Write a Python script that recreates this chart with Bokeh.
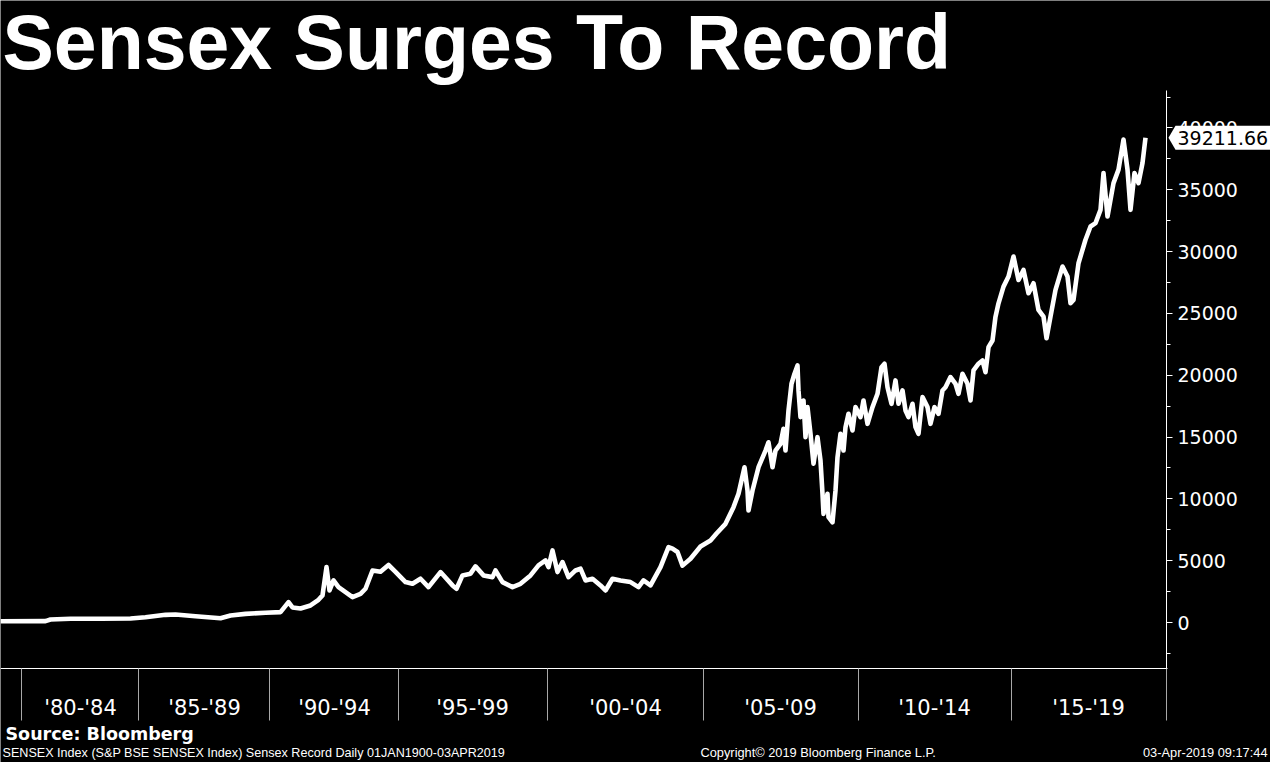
from bokeh.plotting import figure
from bokeh.models import Range1d, LinearAxis, FixedTicker, Label, PolyAnnotation
from bokeh.embed import file_html
from bokeh.resources import INLINE

# position along the trading-session axis (Bloomberg plots by observation)
obs = [0, 45, 50, 70, 100, 130, 145, 165, 175, 195, 220, 230, 245, 265, 280,
       288, 292, 300, 310, 318, 322, 326, 329, 333, 338, 345, 352, 360, 365, 372,
       380, 388, 395, 405, 412, 420, 428, 440, 452, 456, 462, 470, 475, 483, 492,
       495, 502, 512, 520, 530, 538, 545, 548, 552, 557, 562, 568, 575, 580, 585,
       592, 600, 605, 612, 620, 630, 638, 643, 650, 660, 668, 672, 677, 682, 690,
       700, 710, 716, 725, 733, 738, 744, 747, 748, 752, 758, 765, 768, 772, 775,
       780, 783, 785, 788, 791, 794, 797, 798, 800, 803, 805, 807, 810, 813, 817,
       820, 822, 823, 827, 828, 832, 835, 837, 840, 843, 845, 848, 852, 855, 860,
       863, 867, 872, 877, 881, 884, 887, 891, 895, 898, 902, 905, 908, 912, 915,
       918, 922, 927, 930, 934, 938, 942, 945, 950, 955, 958, 962, 967, 970, 973,
       978, 982, 985, 988, 992, 995, 998, 1003, 1008, 1013, 1018, 1023, 1028, 1033, 1038,
       1043, 1046, 1050, 1055, 1062, 1067, 1070, 1073, 1078, 1085, 1090, 1095, 1100, 1103, 1107,
       1113, 1118, 1123, 1127, 1130, 1134, 1138, 1142, 1145]
sensex = [100, 110, 240, 300, 300, 320, 430, 620, 650, 510, 350, 570, 700, 790, 840,
          1650, 1215, 1130, 1380, 1840, 2190, 4480, 2590, 3400, 2860, 2460, 2050, 2320, 2730, 4210,
          4100, 4650, 4100, 3270, 3130, 3540, 2860, 4080, 3000, 2730, 3810, 3950, 4540, 3810, 3670,
          4210, 3270, 2860, 3130, 3810, 4620, 5020, 4480, 5830, 4080, 4890, 3670, 4210, 4350, 3400,
          3540, 3000, 2590, 3540, 3400, 3270, 2860, 3400, 3000, 4480, 6100, 5970, 5700, 4600, 5160,
          6150, 6640, 7200, 7980, 9330, 10410, 12560, 10680, 9060, 10680, 12560, 13910, 14580, 12560, 13910,
          14450, 15670, 13910, 17150, 19310, 20120, 20790, 18770, 16610, 17960, 14990, 17420, 15260, 12840, 14990,
          13100, 10410, 8790, 10410, 8520, 8110, 10680, 13370, 15260, 13910, 15800, 16880, 15530, 17420, 16610,
          17960, 16070, 17420, 18500, 20650, 20930, 19030, 17690, 19580, 17690, 18770, 17150, 16610, 17690, 15800,
          15260, 18230, 17420, 16070, 17420, 16880, 18770, 19030, 19850, 19310, 18500, 20120, 19310, 17960, 20390,
          20930, 21200, 20250, 22270, 22810, 24740, 25820, 27170, 27980, 29600, 27710, 28520, 26630, 27440, 25280,
          24740, 22990, 24740, 26900, 28790, 27980, 25820, 26090, 29060, 30960, 32030, 32300, 33380, 36360, 32840,
          35540, 36630, 39060, 36630, 33380, 36360, 35540, 37170, 39211.66]

period_edges = [21, 138, 269, 398, 547, 703, 858, 1011, 1166]
period_labels = ["'80-'84", "'85-'89", "'90-'94", "'95-'99", "'00-'04", "'05-'09", "'10-'14", "'15-'19"]
y_ticks = [0, 5000, 10000, 15000, 20000, 25000, 30000, 35000, 40000]
y_minor = [-2500, 2500, 7500, 12500, 17500, 22500, 27500, 32500, 37500, 42500]

title_text = "Sensex Surges To Record"
source_text = "Source: Bloomberg"
desc_text = "SENSEX Index (S&P BSE SENSEX Index) Sensex Record  Daily 01JAN1900-03APR2019"
copyright_text = "Copyright\u00a9 2019 Bloomberg Finance L.P."
stamp_text = "03-Apr-2019 09:17:44"

W, H = 1270, 762
PLOT_RIGHT, PLOT_TOP, PLOT_BOTTOM = 1166, 90, 668   # plot area in canvas pixels
ZERO_PX, VAL_PER_PX = 622, 35000 / 432.7            # value scale

# the frame covers the whole canvas; axes are fixed to the plot area's edges
X0, X1 = 0, W
Y0 = -(H - ZERO_PX) * VAL_PER_PX
Y1 = ZERO_PX * VAL_PER_PX

def dx(px):
    return X0 + px * (X1 - X0) / W

def dy(py):
    return Y0 + (H - py) * (Y1 - Y0) / H

def base(py, size):
    # text anchor so that the alphabetic baseline lands on canvas row py
    return dy(py - 0.38 * size)

p = figure(width=W, height=H, output_backend="svg", toolbar_location=None,
           x_range=Range1d(X0, X1), y_range=Range1d(Y0, Y1),
           x_axis_location=None, y_axis_location=None, title=None,
           min_border=0,
           background_fill_color="black", border_fill_color="black", outline_line_color=None)
p.grid.visible = False

p.line(obs, sensex, line_color="white", line_width=4.6, line_join="round")

yax = LinearAxis(ticker=FixedTicker(ticks=y_ticks, minor_ticks=y_minor),
                 fixed_location=dx(PLOT_RIGHT), bounds=(dy(PLOT_BOTTOM), dy(PLOT_TOP)))
yax.axis_line_color = "white"
yax.major_tick_line_color = "white"
yax.major_tick_in = 0
yax.major_tick_out = 6
yax.minor_tick_line_color = "white"
yax.minor_tick_in = 0
yax.minor_tick_out = 4
yax.major_label_text_color = "white"
yax.major_label_text_font = "DejaVu Sans"
yax.major_label_text_font_size = "19px"
yax.major_label_standoff = 5
p.add_layout(yax, "right")

centers = [int(round((a + b) / 2)) for a, b in zip(period_edges[:-1], period_edges[1:])]
xax = LinearAxis(ticker=FixedTicker(ticks=centers, minor_ticks=period_edges),
                 major_label_overrides={c: lab for c, lab in zip(centers, period_labels)},
                 fixed_location=dy(PLOT_BOTTOM), bounds=(0, dx(PLOT_RIGHT) + 0.5))
xax.axis_line_color = "white"
xax.major_tick_line_color = None
xax.major_tick_in = 0
xax.major_tick_out = 0
xax.minor_tick_line_color = "#a8a8a8"
xax.minor_tick_in = 0
xax.minor_tick_out = 52
xax.major_label_text_color = "white"
xax.major_label_text_font = "DejaVu Sans"
xax.major_label_text_font_size = "21px"
xax.major_label_standoff = -25
p.add_layout(xax, "below")

p.add_layout(Label(x=dx(2), y=base(71, 77), text=title_text,
                   text_color="white", text_font="Liberation Sans", text_font_style="bold",
                   text_font_size="77px", text_baseline="alphabetic"))
p.add_layout(Label(x=dx(5), y=base(740, 17.5), text=source_text,
                   text_color="white", text_font="DejaVu Sans", text_font_style="bold",
                   text_font_size="17.5px", text_baseline="alphabetic"))
p.add_layout(Label(x=dx(2), y=base(757, 12.6), text=desc_text,
                   text_color="white", text_font="Liberation Sans",
                   text_font_size="12.6px", text_baseline="alphabetic"))
p.add_layout(Label(x=dx(700), y=base(757, 12.8), text=copyright_text,
                   text_color="white", text_font="Liberation Sans",
                   text_font_size="12.8px", text_baseline="alphabetic"))
p.add_layout(Label(x=dx(W - 3), y=base(757, 12.8), text=stamp_text,
                   text_color="white", text_font="Liberation Sans",
                   text_font_size="12.8px", text_baseline="alphabetic", text_align="right"))

# last value tag
last = sensex[-1]
half = dy(0) - dy(12)
p.add_layout(PolyAnnotation(xs=[dx(1168), dx(1175), dx(W), dx(W), dx(1175)],
                            ys=[last, last + half, last + half, last - half, last - half],
                            fill_color="white", fill_alpha=1.0, line_color=None))
p.add_layout(Label(x=dx(1177), y=last, text=f"{last:.2f}",
                   text_color="black", text_font="DejaVu Sans", text_font_size="19px",
                   text_baseline="middle", text_align="left"))

open("out.html", "w").write(file_html(p, INLINE))
